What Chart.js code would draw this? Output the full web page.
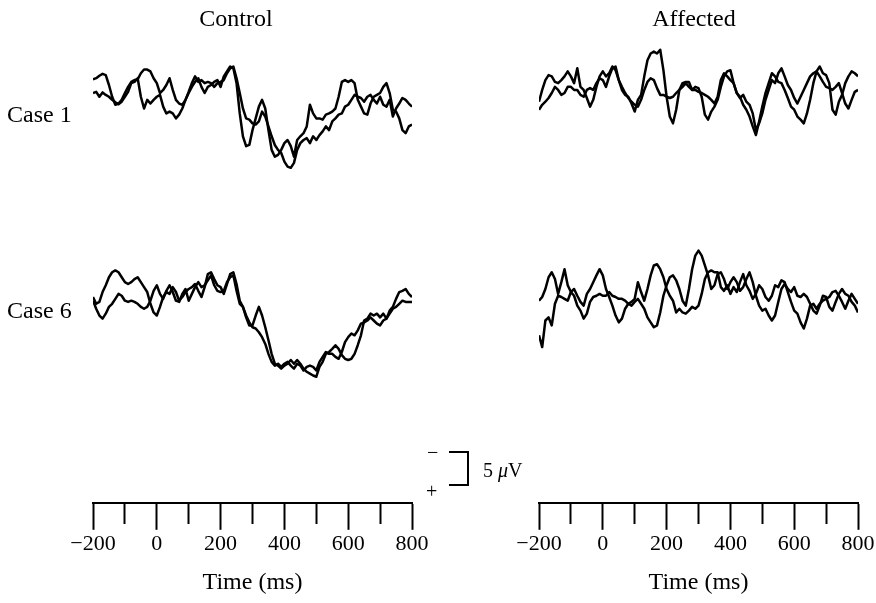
<!DOCTYPE html>
<html>
<head>
<meta charset="utf-8">
<script src="https://cdn.jsdelivr.net/npm/chart.js@4.4.0/dist/chart.umd.min.js"></script>
<style>
  body { margin: 0; background: #fff; width: 876px; height: 603px; position: relative; overflow: hidden;
         font-family: "Liberation Serif", "Times New Roman", serif; color: #000; }
  canvas { position: absolute; top: 0; }
  .lbl { position: absolute; font-size: 24px; line-height: 24px; white-space: nowrap; }
  .small { font-size: 20px; line-height: 20px; }
  .centered { transform: translateX(-50%); }
  #bracket { position: absolute; left: 449px; top: 451px; width: 20px; height: 35px; box-sizing: border-box;
             border: 2px solid #000; border-left: none; }
</style>
</head>
<body>
<canvas id="controlChart" width="438" height="603" style="left:0"></canvas>
<canvas id="affectedChart" width="438" height="603" style="left:438px"></canvas>

<div class="lbl centered" style="left:236px; top:6px">Control</div>
<div class="lbl centered" style="left:694px; top:6px">Affected</div>
<div class="lbl" style="left:7px; top:102px">Case 1</div>
<div class="lbl" style="left:7px; top:298px">Case 6</div>

<div class="lbl small" style="left:427px; top:442px">&minus;</div>
<div class="lbl small" style="left:426px; top:481px">+</div>
<div id="bracket"></div>
<div class="lbl small" style="left:483px; top:460px">5 <i>&mu;</i>V</div>

<script>
// sampling grid, ms
const times = Array.from({ length: 101 }, (_, i) => -200 + i * 10);

// amplitudes in microvolts (negative plotted upward)
const controlCase1A = [-1.7, -1.9, -2.3, -2.6, -2.4, -0.8, 1.1, 2.4, 2.2, 1.6,
    0.5, -0.5, -1.3, -1.6, -1.7, -2.7, -3.3, -3.3, -3.0, -1.9,
    -1.1, 0.5, 0, -0.8, -1.9, 0, 1.6, 2.2, 2.4, 1.6,
    0.5, -0.5, -1.3, -1.9, -0.5, 0.5, -0.5, -0.8, -1.3, -1.6,
    -0.5, -2.2, -3.0, -3.8, -3.5, -1.1, 3.8, 7.5, 9.1, 8.9,
    6.5, 4.6, 2.7, 1.6, 3.0, 6.5, 9.7, 10.8, 10.5, 9.7,
    8.6, 8.1, 9.1, 10.8, 8.1, 7.5, 7.0, 5.9, 2.4, 3.8,
    4.6, 4.6, 4.8, 4.0, 3.8, 3.5, 3.0, 1.1, -1.3, -1.6,
    -1.3, -1.6, -1.1, 1.6, 2.7, 3.8, 4.0, 2.2, 1.1, 0.8,
    0.5, -0.5, -1.1, 0.5, 3.2, 3.5, 4.6, 6.5, 7.0, 5.9,
    5.6];
const controlCase1B = [0.5, 0.3, 1.1, 0.4, 0.8, 1.1, 1.6, 2.0, 2.3, 1.9,
    1.1, 0.3, -1.1, -1.3, -1.9, 1.1, 3.0, 1.6, 2.2, 1.6,
    1.1, 0.8, 2.7, 3.8, 3.5, 3.8, 4.6, 4.0, 3.0, 1.6,
    0.3, -1.1, -2.2, -1.3, -1.6, -1.1, -1.3, -1.1, -0.5, -1.1,
    -1.3, -1.6, -2.7, -3.5, -3.8, -1.9, 0.5, 3.0, 4.6, 4.8,
    5.4, 5.6, 5.1, 3.5, 4.3, 5.9, 7.5, 8.9, 9.7, 10.2,
    11.6, 12.4, 12.6, 11.8, 9.7, 8.6, 8.1, 7.8, 8.6, 7.5,
    8.1, 7.3, 6.7, 5.9, 6.5, 5.1, 4.6, 4.0, 3.8, 2.7,
    2.4, 1.6, 0.8, 1.1, 1.3, 1.9, 1.1, 0.8, 1.6, 2.2,
    1.1, 2.4, 2.7, 1.6, 4.3, 3.0, 2.2, 1.3, 1.6, 2.2,
    2.7];
const affectedCase1A = [1.9, 0, -1.6, -2.4, -2.2, -1.3, -1.1, -1.6, -2.2, -3.0,
    -2.2, -1.1, -3.5, -0.5, 0, 1.3, 2.7, 1.6, -0.5, -2.2,
    -3.0, -2.2, -2.7, -3.8, -3.2, -1.6, 0, 0.8, 1.1, 2.2,
    3.5, 1.6, 0.8, -2.2, -4.8, -5.9, -6.2, -5.9, -6.5, -3.2,
    1.1, 4.3, 5.4, 3.2, 0, -1.1, -1.3, -1.3, 0, -0.5,
    -0.3, 1.1, 4.0, 4.8, 3.5, 2.7, 1.6, -0.5, -2.2, -3.0,
    -3.2, -1.1, 0.5, 1.1, 2.4, 3.2, 4.3, 5.9, 7.3, 5.1,
    2.7, 0.5, -1.1, -2.7, -2.2, -1.3, -1.1, 0, 1.3, 2.7,
    3.2, 4.3, 4.8, 5.4, 3.8, 1.6, -1.1, -3.0, -3.8, -2.7,
    -2.4, -1.1, 3.2, 4.0, 1.9, 0.8, -1.1, -2.2, -3.0, -2.7,
    -2.2];
const affectedCase1B = [3.2, 2.4, 1.9, 1.3, 0.5, -0.5, 0, 0.8, 0.5, -0.5,
    -0.5, 0, 0, 0.8, 1.1, 0, -0.3, 0, -1.1, -1.9,
    -1.6, -0.5, -2.2, -3.5, -3.8, -1.6, -0.5, 0.5, 1.3, 1.9,
    2.4, 2.7, 1.6, 0, -1.3, -1.9, -1.6, -0.3, 0.8, 0.8,
    1.1, 1.3, 1.1, 0.5, 0, -0.5, -1.1, -0.5, 0, 0,
    0.3, 0.5, 0.8, 1.1, 1.6, 2.2, 1.1, -1.6, -2.7, -2.2,
    -1.6, -1.1, 0.5, 1.3, 0.8, 1.9, 2.4, 3.8, 6.5, 5.4,
    3.8, 1.6, 0, -1.6, -1.1, -2.7, -3.5, -2.2, -0.8, 0,
    1.3, 2.2, 1.1, 0, -1.1, -2.2, -2.7, -3.0, -2.2, -1.3,
    -0.5, -0.3, 0, -0.5, -1.1, 0.5, 2.2, 3.0, 1.6, 0.3,
    0];
const controlCase6A = [-0.3, 0.8, 0.5, -1.1, -2.2, -3.5, -4.3, -4.6, -4.3, -3.5,
    -2.7, -2.4, -2.7, -3.2, -3.5, -2.7, -1.9, -1.1, 0.8, 2.2,
    2.7, 1.3, -0.3, -1.1, -0.8, -1.9, -1.1, 0.3, -0.3, -1.1,
    -1.6, -1.9, -2.4, -1.3, -0.3, -1.9, -4.0, -4.3, -3.2, -2.2,
    -1.9, -0.8, -2.4, -4.0, -4.3, -2.4, 0.3, 1.3, 3.0, 4.3,
    4.3, 2.7, 1.3, 2.7, 4.6, 6.7, 8.9, 10.5, 10.8, 11.3,
    10.8, 10.5, 9.9, 10.5, 9.9, 10.5, 11.3, 11.8, 12.1, 12.4,
    12.6, 11.0, 10.2, 8.9, 8.6, 8.1, 7.5, 8.1, 9.1, 9.7,
    9.9, 9.7, 8.9, 7.5, 5.9, 3.5, 3.2, 2.4, 2.7, 2.4,
    3.0, 2.4, 3.2, 1.9, 1.3, 0, -1.1, -1.3, -1.6, -0.8,
    -0.3];
const controlCase6B = [0.3, 1.6, 2.7, 3.2, 2.4, 1.3, 0.8, 0, -0.8, -0.5,
    0.3, 0.5, 0.3, 0.5, 0.8, 1.3, 1.6, 1.3, 0.3, -1.3,
    -2.2, -0.8, 0, -1.3, -2.2, -1.1, 0.3, 0.5, -0.8, -1.6,
    0.3, -0.8, -1.9, -2.7, -1.9, -2.2, -3.0, -3.8, -2.2, -1.3,
    -1.1, -1.3, -2.7, -3.5, -3.8, -1.3, 0.8, 1.3, 2.7, 3.8,
    4.6, 4.8, 5.4, 6.2, 7.3, 8.9, 10.2, 10.8, 10.5, 11.0,
    10.5, 10.2, 10.8, 11.3, 10.5, 10.8, 11.6, 11.0, 10.8, 11.0,
    11.6, 10.2, 9.4, 8.6, 8.9, 8.9, 9.4, 9.7, 8.6, 7.0,
    6.2, 5.6, 5.9, 5.1, 4.0, 3.8, 3.5, 3.0, 3.5, 4.0,
    4.3, 3.5, 3.2, 2.4, 1.6, 1.3, 0.8, 0.3, 0.5, 0.5,
    0.5];
const affectedCase6A = [0.3, -0.3, -1.6, -3.5, -4.3, -3.2, -0.8, -2.7, -4.8, -2.2,
    -1.1, -1.6, -0.5, 0.5, 1.1, -0.8, -1.6, -2.7, -3.8, -4.8,
    -3.8, -1.6, -0.3, 1.1, 2.7, 3.8, 3.2, 1.6, 0.8, 0.5,
    0, -2.7, -1.1, 0.3, -1.6, -3.8, -5.4, -5.6, -4.8, -3.5,
    -1.6, -0.5, 0.3, 2.2, 1.6, 2.2, 2.4, 1.9, 1.3, 1.6,
    1.1, -0.8, -3.2, -4.3, -4.6, -4.3, -4.3, -1.9, -1.3, -2.2,
    -0.8, -1.9, -1.1, -2.7, -4.0, -2.2, -1.3, 0, -0.8, -2.2,
    -1.6, -0.3, 0.3, -0.5, -2.2, -1.9, -3.0, -2.7, -1.1, 0.5,
    1.9, 2.4, 3.8, 4.8, 3.2, 1.1, 0.8, 1.6, 0.8, 0.3,
    0, -0.3, -1.1, -1.3, -0.5, 0.5, 1.6, 0.3, -0.8, 0,
    0.8];
const affectedCase6B = [5.9, 7.8, 3.5, 3.0, 4.3, 0.8, -0.5, -0.3, 0, 0.3,
    -1.1, -0.5, 1.1, 1.9, 3.2, 2.4, 0.5, -0.3, -0.5, -0.8,
    -0.5, -0.5, -1.1, -0.5, -0.3, 0, 0, 0.3, 0.8, 1.1,
    0.5, 0, 0.8, 1.6, 3.0, 3.8, 4.6, 4.3, 2.2, -0.5,
    -2.2, -3.5, -3.8, -3.0, -1.6, 0.3, 1.1, -1.6, -4.8, -7.0,
    -7.8, -7.0, -5.4, -3.8, -1.6, -2.2, -4.0, -4.3, -3.2, -1.6,
    -2.7, -3.5, -2.7, -1.3, -1.9, -3.2, -4.3, -2.7, -0.5, 1.1,
    1.9, 1.6, 2.7, 3.5, 2.7, 0.5, -1.6, -2.4, -1.6, -1.1,
    -1.9, -0.5, -0.3, -0.8, -0.3, 0.8, 1.9, 2.4, 1.1, -0.5,
    -0.3, 1.3, 1.9, 0.5, -0.8, -1.6, -0.8, -0.5, 0.5, 1.1,
    2.2];

const serif = '"Liberation Serif", "Times New Roman", serif';

function traceSet(values, axis) {
    return {
        data: values.map((v, i) => ({ x: times[i], y: v })),
        yAxisID: axis,
        borderColor: '#000',
        borderWidth: 2.5,
        borderJoinStyle: 'round',
        pointRadius: 0,
        tension: 0,
        fill: false
    };
}

function makeChart(id, case1A, case1B, case6A, case6B, padLeft, padRight) {
    return new Chart(document.getElementById(id), {
        type: 'line',
        data: {
            datasets: [
                traceSet(case1A, 'y1'), traceSet(case1B, 'y1'),
                traceSet(case6A, 'y6'), traceSet(case6B, 'y6')
            ]
        },
        options: {
            responsive: false,
            animation: false,
            devicePixelRatio: 1,
            layout: { padding: { left: padLeft, right: padRight, top: 30, bottom: 0 } },
            plugins: { legend: { display: false }, tooltip: { enabled: false } },
            scales: {
                x: {
                    type: 'linear',
                    min: -200,
                    max: 800,
                    ticks: {
                        stepSize: 100,
                        autoSkip: false,
                        maxRotation: 0,
                        padding: 1,
                        color: '#000',
                        font: { family: serif, size: 22 },
                        callback: v => v % 200 ? '' : (v < 0 ? '\u2212' + (-v) : String(v))
                    },
                    grid: {
                        drawOnChartArea: false,
                        tickLength: 27,
                        tickWidth: 2,
                        tickColor: '#000',
                        // odd hundreds get a shorter tick
                        tickBorderDash: ctx => (ctx.tick && ctx.tick.value % 200) ? [20, 100] : []
                    },
                    border: { color: '#000', width: 2 },
                    title: {
                        display: true,
                        text: 'Time (ms)',
                        color: '#000',
                        font: { family: serif, size: 24 },
                        padding: { top: 10, bottom: 6 }
                    }
                },
                y1: { display: false, reverse: true, min: -9.7, max: 66.8 },
                y6: { display: false, reverse: true, min: -43.5, max: 33.0 }
            }
        }
    });
}

makeChart('controlChart', controlCase1A, controlCase1B, controlCase6A, controlCase6B, 93, 26);
makeChart('affectedChart', affectedCase1A, affectedCase1B, affectedCase6A, affectedCase6B, 101, 18);
</script>
</body>
</html>
